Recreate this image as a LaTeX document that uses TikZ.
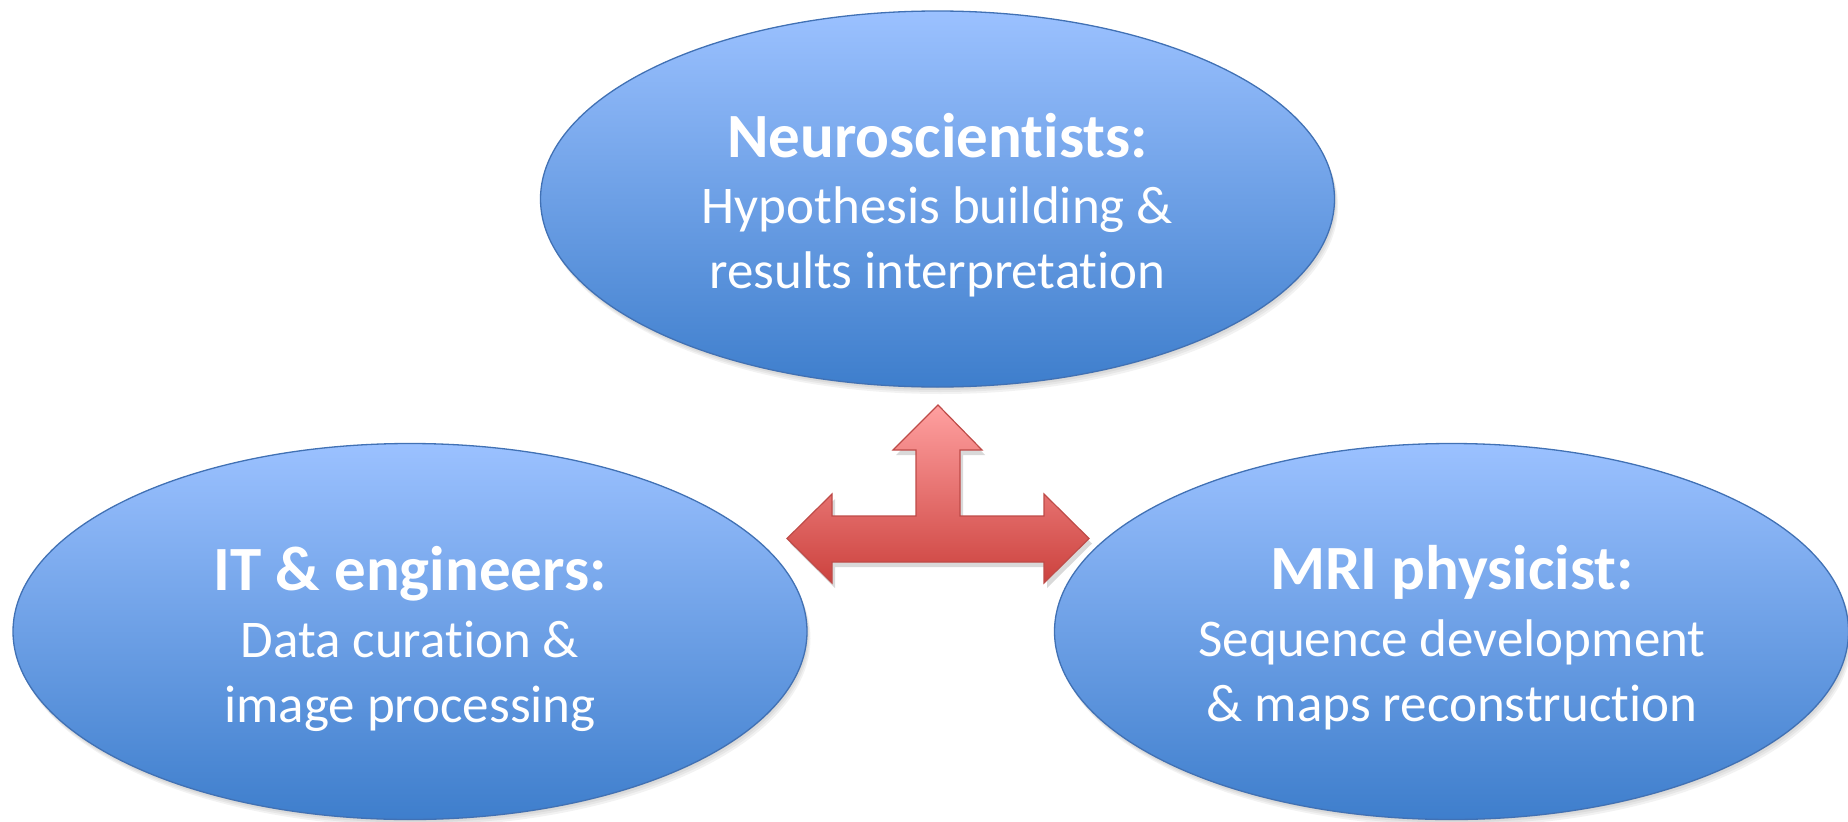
\documentclass[tikz,border=0pt]{standalone}
\usepackage{fontspec}
\setmainfont[Ligatures=NoCommon]{Carlito}
\usetikzlibrary{shapes.geometric}
\definecolor{ellTop}{RGB}{155,193,255}
\definecolor{ellBot}{RGB}{62,126,204}
\definecolor{ellLine}{RGB}{65,113,180}
\definecolor{arrTop}{RGB}{255,160,160}
\definecolor{arrBot}{RGB}{204,66,62}
\definecolor{arrLine}{RGB}{190,75,72}
\begin{document}
\begin{tikzpicture}[x=1pt,y=-1pt,
  team/.style={ellipse, draw=ellLine, line width=1.3pt, top color=ellTop, bottom color=ellBot,
    minimum width=794pt, minimum height=376pt, inner sep=0pt},
  shade/.style={ellipse, fill=black, opacity=0.05, minimum width=#1, minimum height=376pt, inner sep=0pt},
  ttl/.style={text=white, font=\fontsize{63}{74}\selectfont\bfseries, anchor=base, inner sep=0pt},
  txt/.style={text=white, font=\fontsize{53}{64}\selectfont, anchor=base, inner sep=0pt}]
\useasboundingbox (0,0) rectangle (1848,822);
% soft shadows
\foreach \cx/\cy in {937.5/199, 410/631.5, 1451.5/631.5}{
  \foreach \d in {1,3,5,7}{
    \node[shade=794pt] at (\cx+0.5*\d,\cy+\d) {};
  }
}
% ellipses
\node[team] (neuro) at (937.5,199) {};
\node[team] (it) at (410,631.5) {};
\node[team] (mri) at (1451.5,631.5) {};
% arrow shadow
\fill[black, opacity=0.15] (941,410) -- (985,455) -- (963,455) -- (963,521) -- (1047,521) -- (1047,499) -- (1092,543.5) -- (1047,588) -- (1047,567) -- (835,567) -- (835,588) -- (790,543.5) -- (835,499) -- (835,521) -- (919,521) -- (919,455) -- (896,455) -- cycle;
% three-way arrow
\draw[arrLine, line width=1.2pt, top color=arrTop, bottom color=arrBot, line join=miter]
  (938,405) -- (982,450) -- (960,450) -- (960,516) -- (1044,516) -- (1044,494) -- (1089,538.5)
  -- (1044,583) -- (1044,562) -- (832,562) -- (832,583) -- (787,538.5) -- (832,494) -- (832,516)
  -- (916,516) -- (916,450) -- (893,450) -- cycle;
% texts
\node[ttl] (n1) at (937.5,157) {Neuroscientists:};
\node[txt] (n2) at (937.5,223) {Hypothesis building \&};
\node[txt] (n3) at (937.5,288) {results interpretation};
\node[ttl] (i1) at (410,590) {IT \& engineers:};
\node[txt] (i2) at (410,657) {Data curation \&};
\node[txt] (i3) at (410,722) {image processing};
\node[ttl] (m1) at (1452,589) {MRI physicist:};
\node[txt] (m2) at (1452,656) {Sequence development};
\node[txt] (m3) at (1452,721) {\& maps reconstruction};
\end{tikzpicture}
\end{document}
